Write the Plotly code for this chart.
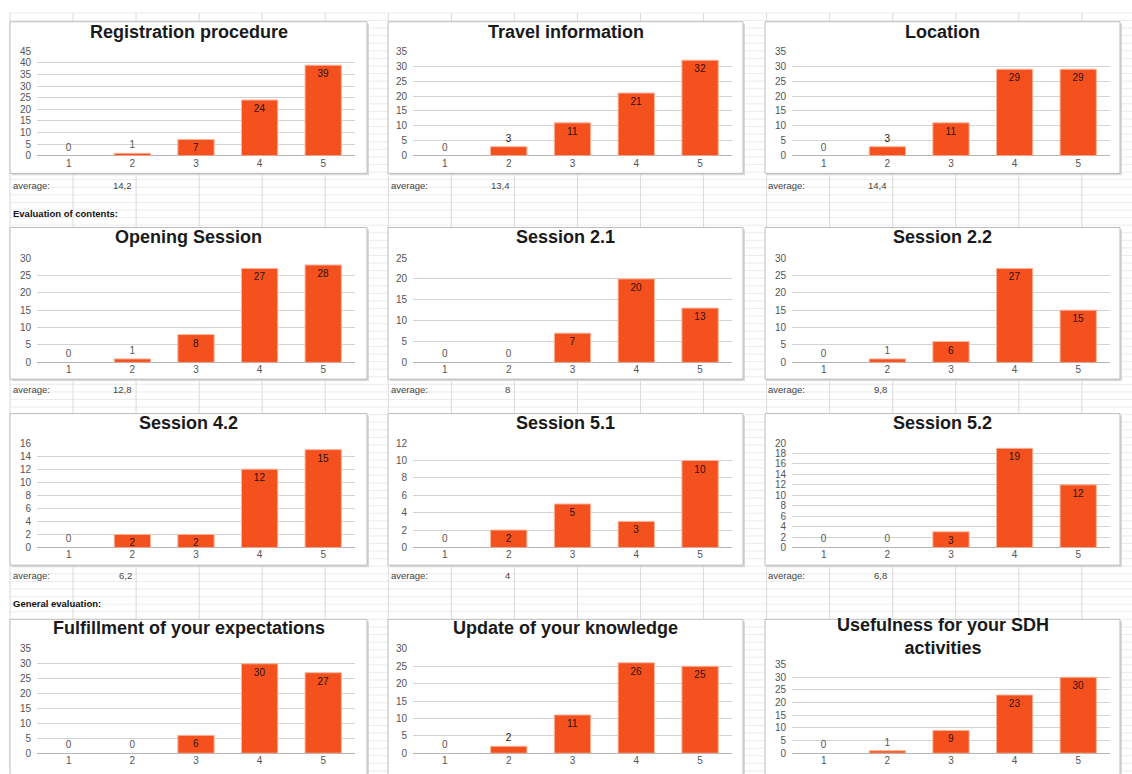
import numpy as np
import plotly.graph_objects as go

W, H = 1132, 774

categories = ["1", "2", "3", "4", "5"]

titles = [
    "Registration procedure", "Travel information", "Location",
    "Opening Session", "Session 2.1", "Session 2.2",
    "Session 4.2", "Session 5.1", "Session 5.2",
    "Fulfillment of your expectations", "Update of your knowledge",
    "Usefulness for your SDH<br>activities",
]
registration = [0, 1, 7, 24, 39]
travel = [0, 3, 11, 21, 32]
location = [0, 3, 11, 29, 29]
opening = [0, 1, 8, 27, 28]
session_2_1 = [0, 0, 7, 20, 13]
session_2_2 = [0, 1, 6, 27, 15]
session_4_2 = [0, 2, 2, 12, 15]
session_5_1 = [0, 2, 5, 3, 10]
session_5_2 = [0, 0, 3, 19, 12]
fulfillment = [0, 0, 6, 30, 27]
update = [0, 2, 11, 26, 25]
usefulness = [0, 1, 9, 23, 30]
series = [registration, travel, location, opening, session_2_1, session_2_2,
          session_4_2, session_5_1, session_5_2, fulfillment, update, usefulness]
y_max = [45, 35, 35, 30, 25, 30, 16, 12, 20, 35, 30, 35]
y_step = [5, 5, 5, 5, 5, 5, 2, 2, 2, 5, 5, 5]
averages = [14.2, 13.4, 14.4, 12.8, 8, 9.8, 6.2, 4, 6.8]
section_labels = ["Evaluation of contents:", "General evaluation:"]

BAR = "#F4511E"
FONT = "Liberation Sans, Arial, sans-serif"

def px(x):
    return x / W

def py(y):
    return 1 - y / H

# layout geometry (pixels)
cols = [  # box_left, box_right, plot_left, plot_right
    (10, 367, 37, 355),
    (388, 743, 413, 732),
    (765, 1120, 792, 1110),
]
rows = [  # box_top, box_bottom, plot_top, plot_bottom, title_y
    (16, 170, 46, 152, 30),
    (225, 379, 256, 362, 239),
    (414, 568, 444, 550, 428),
    (623, 800, 653, 759, 636),
]

fig = go.Figure()
shapes = []
annotations = []

# spreadsheet grid
for yy in np.arange(7, H + 8, 7.7):
    shapes.append(dict(type="line", xref="paper", yref="paper", x0=px(10), x1=1,
                       y0=py(yy), y1=py(yy), line=dict(color="#ececec", width=1), layer="below"))
for xx in np.arange(10, W, 63.05):
    shapes.append(dict(type="line", xref="paper", yref="paper", x0=px(xx), x1=px(xx),
                       y0=0, y1=py(7), line=dict(color="#dadada", width=1), layer="below"))

layout_axes = {}
for i, vals in enumerate(series):
    r, c = divmod(i, 3)
    bl, br, pl, pr = cols[c]
    bt, bb, pt, pb, ty = rows[r]
    if i == 11:
        pt = 669
        ty = 644
    # box
    shapes.append(dict(type="rect", xref="paper", yref="paper",
                       x0=px(bl + 2), x1=px(br + 2), y0=py(bb + 2), y1=py(bt + 2),
                       line=dict(width=0), fillcolor="#d8d8d8", layer="below"))
    shapes.append(dict(type="rect", xref="paper", yref="paper",
                       x0=px(bl), x1=px(br), y0=py(bb), y1=py(bt),
                       line=dict(color="#bdbdbd", width=1), fillcolor="white", layer="below"))
    # title: baseline-ish anchored so visual centre sits at ty
    annotations.append(dict(xref="paper", yref="paper", x=px((bl + br) / 2), y=py(ty - 4),
                            text="<b>%s</b>" % titles[i], showarrow=False,
                            xanchor="center", yanchor="middle",
                            font=dict(family=FONT, size=18, color="#1a1a1a")))
    n = "" if i == 0 else str(i + 1)
    ymx = y_max[i]
    positions = []
    colors = []
    for v in vals:
        hpx = v / ymx * (pb - pt)
        if hpx < 12:
            positions.append("outside")
            colors.append("#555555" if hpx < 5 else "#2a1208")
        else:
            positions.append("inside")
            colors.append("#2a1208")
    fig.add_trace(go.Bar(
        x=categories, y=vals, xaxis="x" + n, yaxis="y" + n,
        marker=dict(color=BAR, line=dict(color="#f8b49a",
                                         width=[0 if v == 0 else 1 for v in vals])),
        text=[str(v) for v in vals], textposition=positions, textangle=0,
        insidetextanchor="end", constraintext="none",
        textfont=dict(family=FONT, size=10, color=colors),
        cliponaxis=False, showlegend=False, hoverinfo="skip",
    ))
    layout_axes["xaxis" + n] = dict(
        domain=[px(pl), px(pr)], anchor="y" + n, type="category",
        showgrid=False, zeroline=False, showline=False, ticks="",
        tickfont=dict(family=FONT, size=10, color="#555555"), fixedrange=True,
    )
    layout_axes["yaxis" + n] = dict(
        domain=[py(pb), py(pt)], anchor="x" + n, range=[0, ymx], dtick=y_step[i],
        showgrid=True, gridcolor="#d3d3d3", gridwidth=1,
        zeroline=True, zerolinecolor="#b5b5b5", zerolinewidth=1,
        showline=False, ticks="", ticklabelstandoff=5,
        tickfont=dict(family=FONT, size=10, color="#555555"), fixedrange=True,
    )

# average rows
avg_y = [182, 390, 578]
for i, a in enumerate(averages):
    r, c = divmod(i, 3)
    bl = cols[c][0]
    annotations.append(dict(xref="paper", yref="paper", x=px(bl + 1), y=py(avg_y[r]),
                            text="average:", showarrow=False, xanchor="left", yanchor="middle",
                            font=dict(family=FONT, size=9.5, color="#444444")))
    annotations.append(dict(xref="paper", yref="paper", x=px(bl + 124), y=py(avg_y[r]),
                            text=("%g" % a).replace(".", ","), showarrow=False,
                            xanchor="right", yanchor="middle",
                            font=dict(family=FONT, size=9.5, color="#444444")))

for lbl, yy in zip(section_labels, [211, 607]):
    annotations.append(dict(xref="paper", yref="paper", x=px(11), y=py(yy),
                            text="<b>%s</b>" % lbl, showarrow=False, xanchor="left",
                            yanchor="middle", font=dict(family=FONT, size=9.5, color="#111111")))

fig.update_layout(
    width=W, height=H, margin=dict(l=0, r=0, t=0, b=0),
    paper_bgcolor="white", plot_bgcolor="rgba(0,0,0,0)",
    bargap=0.43, shapes=shapes, annotations=annotations,
    font=dict(family=FONT), **layout_axes,
)

fig.write_html("out.html")
